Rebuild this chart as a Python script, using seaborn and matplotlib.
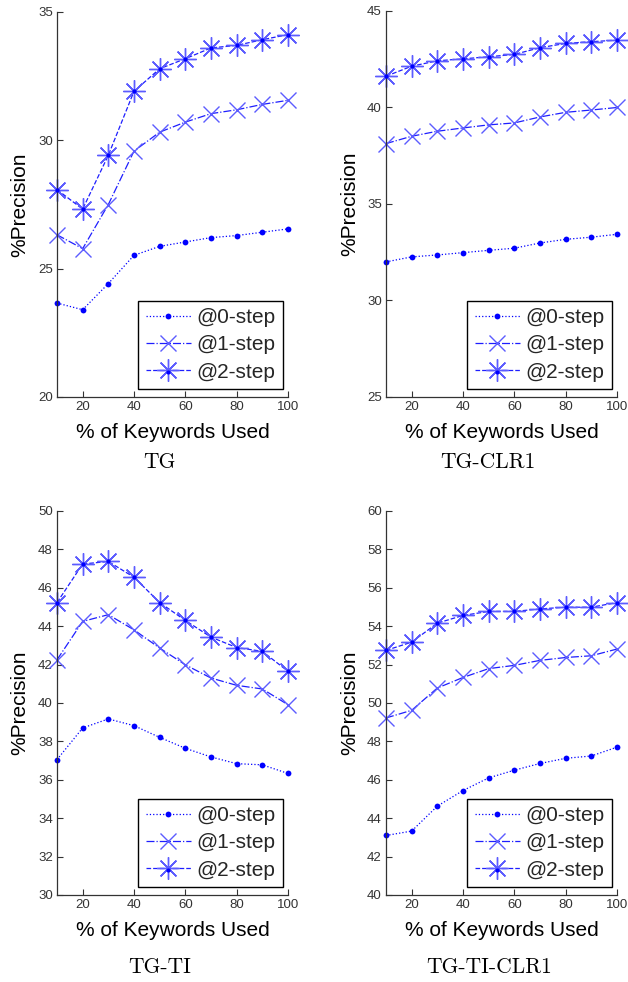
import matplotlib
matplotlib.use("Agg")
import matplotlib.pyplot as plt
import seaborn as sns
import pandas as pd
from matplotlib.legend_handler import HandlerTuple

# ---------------- data ----------------
keywords_pct = [10, 20, 30, 40, 50, 60, 70, 80, 90, 100]

tg_step0 = [23.66, 23.40, 24.42, 25.52, 25.87, 26.04, 26.21, 26.29, 26.42, 26.55]
tg_step1 = [26.32, 25.78, 27.50, 29.58, 30.32, 30.71, 31.04, 31.19, 31.40, 31.56]
tg_step2 = [28.08, 27.32, 29.42, 31.91, 32.79, 33.18, 33.60, 33.70, 33.92, 34.12]

tgclr_step0 = [32.00, 32.26, 32.36, 32.48, 32.60, 32.71, 32.98, 33.17, 33.28, 33.43]
tgclr_step1 = [38.13, 38.51, 38.77, 38.94, 39.10, 39.20, 39.51, 39.75, 39.87, 40.00]
tgclr_step2 = [41.62, 42.14, 42.42, 42.52, 42.63, 42.75, 43.10, 43.32, 43.41, 43.49]

tgti_step0 = [37.05, 38.70, 39.17, 38.82, 38.21, 37.64, 37.19, 36.84, 36.78, 36.33]
tgti_step1 = [42.25, 44.25, 44.60, 43.81, 42.86, 41.99, 41.30, 40.92, 40.73, 39.91]
tgti_step2 = [45.23, 47.24, 47.37, 46.55, 45.23, 44.30, 43.43, 42.89, 42.69, 41.65]

tgticlr_step0 = [43.10, 43.33, 44.63, 45.44, 46.10, 46.50, 46.85, 47.12, 47.24, 47.70]
tgticlr_step1 = [49.22, 49.62, 50.78, 51.33, 51.79, 51.96, 52.22, 52.37, 52.46, 52.81]
tgticlr_step2 = [52.74, 53.17, 54.16, 54.56, 54.77, 54.77, 54.90, 54.99, 54.99, 55.23]

panel_titles = ["TG", "TG-CLR1", "TG-TI", "TG-TI-CLR1"]
series_labels = ["@0-step", "@1-step", "@2-step"]
x_ticks = [20, 40, 60, 80, 100]
y_ticks_tg = [20, 25, 30, 35]
y_ticks_tgclr = [25, 30, 35, 40, 45]
y_ticks_tgti = [30, 32, 34, 36, 38, 40, 42, 44, 46, 48, 50]
y_ticks_tgticlr = [40, 42, 44, 46, 48, 50, 52, 54, 56, 58, 60]

panels = [
    (panel_titles[0], [tg_step0, tg_step1, tg_step2], y_ticks_tg),
    (panel_titles[1], [tgclr_step0, tgclr_step1, tgclr_step2], y_ticks_tgclr),
    (panel_titles[2], [tgti_step0, tgti_step1, tgti_step2], y_ticks_tgti),
    (panel_titles[3], [tgticlr_step0, tgticlr_step1, tgticlr_step2], y_ticks_tgticlr),
]

# ---------------- style ----------------
sns.set_theme(style="white")
plt.rcParams["font.family"] = ["Liberation Sans", "DejaVu Sans"]

W, H = 628, 982
fig = plt.figure(figsize=(W / 100, H / 100), dpi=100)

# axes boxes in pixels: left, top, right, bottom
boxes = [(57, 12, 288, 397), (386, 11, 617, 397), (57, 511, 288, 895), (386, 511, 617, 895)]
captions_xy = [(159, 462), (488, 462), (160, 967), (489, 967)]

BLUE = "#0000ff"
LIGHT = "#5c5cff"

for (title, series, yt), (l, t, r, b), (cx, cy) in zip(panels, boxes, captions_xy):
    ax = fig.add_axes([l / W, 1 - b / H, (r - l) / W, (b - t) / H])
    df = pd.DataFrame({"x": keywords_pct, "s0": series[0], "s1": series[1], "s2": series[2]})

    sns.lineplot(data=df, x="x", y="s0", ax=ax, color=BLUE, linestyle=":", linewidth=0.9,
                 marker="o", markersize=4.2, markeredgewidth=0, markerfacecolor=BLUE,
                 clip_on=False)
    h0 = ax.lines[-1]
    sns.lineplot(data=df, x="x", y="s1", ax=ax, color="#1e1eff", linestyle="-.", linewidth=0.9,
                 marker="x", markersize=12, markeredgewidth=1.0, markeredgecolor=LIGHT,
                 clip_on=False)
    h1 = ax.lines[-1]
    sns.lineplot(data=df, x="x", y="s2", ax=ax, color="#1e1eff", linestyle="--", linewidth=0.9,
                 marker=(8, 2, 0), markersize=16, markeredgewidth=1.0, markeredgecolor=LIGHT,
                 clip_on=False)
    h2 = ax.lines[-1]
    sns.scatterplot(data=df, x="x", y="s2", ax=ax, color=BLUE, s=9, linewidth=0, zorder=5,
                    clip_on=False)
    h2dot = ax.collections[-1]

    ax.set_xlim(10, 100)
    ax.set_ylim(yt[0], yt[-1])
    ax.set_xticks(x_ticks)
    ax.set_yticks(yt)
    sns.despine(ax=ax)
    for sp in ("left", "bottom"):
        ax.spines[sp].set_color("#333333")
        ax.spines[sp].set_linewidth(0.9)
    ax.tick_params(axis="both", direction="in", length=4, width=0.8, color="#333333",
                   labelcolor="#333333", labelsize=9.5, bottom=True, left=True, pad=3)
    ax.set_xlabel("% of Keywords Used", fontsize=15, color="black", labelpad=7)
    ax.set_ylabel("%Precision", fontsize=15, color="black", labelpad=6)

    leg = ax.legend([h0, h1, (h2, h2dot)], series_labels, loc="lower right",
                    bbox_to_anchor=(1 - 5 / (r - l), 8 / (b - t)), borderaxespad=0,
                    fontsize=15, frameon=True, fancybox=False, framealpha=1,
                    edgecolor="black", handlelength=2.2, handletextpad=0.25,
                    labelspacing=0.4, borderpad=0.35, scatterpoints=1,
                    handler_map={tuple: HandlerTuple(ndivide=1)})
    leg.get_frame().set_linewidth(1.0)
    leg.set_zorder(10)

    fig.text(cx / W, 1 - cy / H, title, ha="center", va="center",
             family="cmr10", fontsize=15.5, color="black")

fig.savefig("out.png", dpi=100)
